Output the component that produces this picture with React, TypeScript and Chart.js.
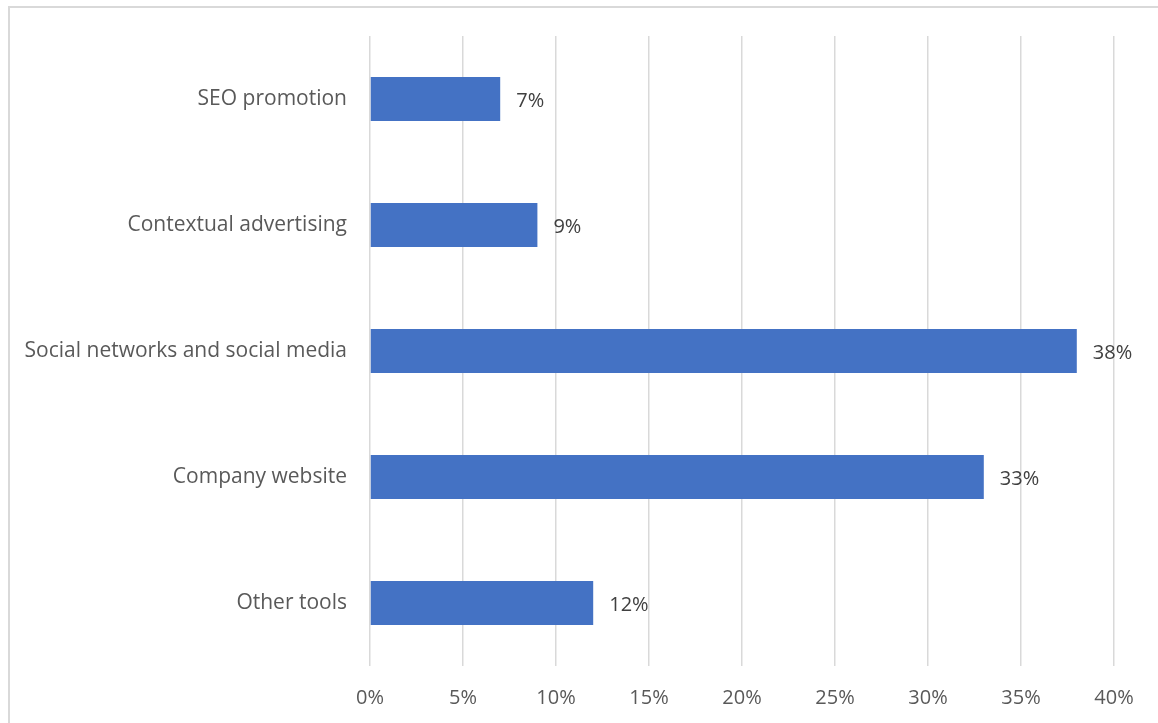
import React, { useEffect, useRef } from "react";
import { Chart, registerables } from "chart.js";

Chart.register(...registerables);

const categories = [
  "SEO promotion",
  "Contextual advertising",
  "Social networks and social media",
  "Company website",
  "Other tools",
];
const values = [7, 9, 38, 33, 12];
const xTicks = [0, 5, 10, 15, 20, 25, 30, 35, 40];

const FONT = "'Open Sans', sans-serif";
const SIZE = 20;

const valueLabels = {
  id: "valueLabels",
  afterDatasetsDraw(chart: any) {
    const ctx = chart.ctx;
    const meta = chart.getDatasetMeta(0);
    ctx.save();
    ctx.font = `${SIZE}px ${FONT}`;
    ctx.fillStyle = "#404040";
    ctx.textAlign = "left";
    ctx.textBaseline = "middle";
    meta.data.forEach((bar: any, i: number) => {
      ctx.fillText(values[i] + "%", bar.x + 16, bar.y + 2);
    });
    ctx.restore();
  },
};

export default function App() {
  const ref = useRef<HTMLCanvasElement>(null);
  useEffect(() => {
    const chart = new Chart(ref.current!, {
      type: "bar",
      data: {
        labels: categories,
        datasets: [
          {
            data: values,
            backgroundColor: "#4472C4",
            categoryPercentage: 1,
            barPercentage: 0.35,
          },
        ],
      },
      options: {
        indexAxis: "y",
        animation: false,
        responsive: false,
        maintainAspectRatio: false,
        layout: { padding: { left: 0, right: 44, top: 36, bottom: 0 } },
        plugins: { legend: { display: false }, tooltip: { enabled: false } },
        scales: {
          x: {
            min: 0,
            max: 40,
            afterBuildTicks(scale: any) {
              scale.ticks = xTicks.map((v) => ({ value: v }));
            },
            afterFit(scale: any) {
              scale.height = 57;
            },
            grid: { color: "#d9d9d9", lineWidth: 1.5, drawTicks: false },
            border: { display: false },
            ticks: {
              padding: 20,
              color: "#595959",
              font: { family: FONT, size: SIZE },
              callback: (v: any) => v + "%",
            },
          },
          y: {
            afterFit(scale: any) {
              scale.width = 370;
            },
            grid: { display: false },
            border: { display: false },
            ticks: {
              padding: 15,
              color: "#595959",
              font: { family: FONT, size: 21 },
            },
          },
        },
      },
      plugins: [valueLabels],
    });
    return () => chart.destroy();
  }, []);
  return (
    <div>
      <div
        style={{
          position: "fixed",
          left: 8,
          top: 6,
          width: 1170,
          height: 740,
          border: "2px solid #d9d9d9",
          boxSizing: "border-box",
        }}
      />
      <canvas
        ref={ref}
        width={1158}
        height={723}
        style={{ position: "fixed", left: 0, top: 0, width: 1158, height: 723 }}
      />
    </div>
  );
}
